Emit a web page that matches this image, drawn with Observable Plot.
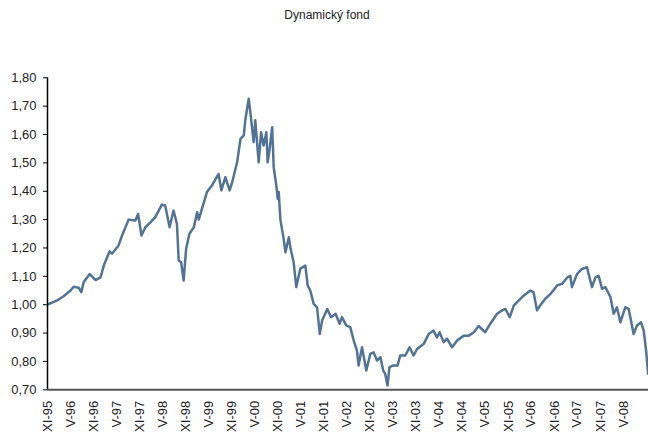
<!DOCTYPE html>
<html>
<head>
<meta charset="utf-8">
<script src="https://cdn.jsdelivr.net/npm/d3@7"></script>
<script src="https://cdn.jsdelivr.net/npm/@observablehq/plot@0.6"></script>
<style>
  html, body { margin: 0; padding: 0; background: #fff; }
  #title { width: 648px; height: 30px; line-height: 30px; text-align: center; padding-left: 6px; box-sizing: border-box;
           font-family: "Liberation Sans", Arial, sans-serif; font-size: 12px; color: #222; }
</style>
</head>
<body>
<div id="title">Dynamický fond</div>
<div id="chart"></div>
<script>
const title = "Dynamický fond";

const dates = [
  "1995-11-01","1996-01-16","1996-03-08","1996-05-01","1996-05-26","1996-07-05","1996-07-26","1996-08-14",
  "1996-10-01","1996-11-16","1996-12-25","1997-01-20","1997-03-07","1997-03-26","1997-05-17","1997-06-14",
  "1997-08-05","1997-09-28","1997-10-19","1997-11-15","1997-12-16","1998-01-25","1998-03-04","1998-04-26",
  "1998-05-22","1998-06-26","1998-07-27","1998-08-23","1998-09-06","1998-09-25","1998-10-15","1998-11-04",
  "1998-11-30","1999-01-04","1999-01-30","1999-02-12","1999-03-09","1999-04-18","1999-05-27","1999-07-19",
  "1999-08-10","1999-09-11","1999-10-15","1999-11-04","1999-12-13","2000-01-09","2000-02-04","2000-02-17",
  "2000-03-14","2000-03-27","2000-04-22","2000-05-05","2000-06-01","2000-06-20","2000-07-10","2000-08-01",
  "2000-08-11","2000-08-27","2000-09-16","2000-09-28","2000-10-19","2000-10-30","2000-11-07","2000-11-20",
  "2000-12-16","2000-12-30","2001-01-26","2001-02-09","2001-03-05","2001-03-26","2001-04-27","2001-06-06",
  "2001-06-24","2001-07-15","2001-08-11","2001-09-07","2001-09-28","2001-10-17","2001-11-26","2001-12-27",
  "2002-02-01","2002-03-04","2002-03-23","2002-04-26","2002-05-28","2002-06-24","2002-07-20","2002-08-02",
  "2002-08-29","2002-10-02","2002-11-03","2002-11-29","2002-12-26","2003-01-22","2003-02-13","2003-03-01",
  "2003-03-19","2003-04-04","2003-05-05","2003-06-07","2003-06-28","2003-08-07","2003-09-10","2003-10-12",
  "2003-11-08","2004-01-01","2004-02-09","2004-03-18","2004-04-14","2004-05-05","2004-06-06","2004-07-03",
  "2004-08-12","2004-09-21","2004-11-13","2004-12-22","2005-02-01","2005-03-10","2005-05-02","2005-06-11",
  "2005-08-04","2005-09-13","2005-10-09","2005-11-12","2005-12-14","2006-01-23","2006-03-02","2006-04-24",
  "2006-05-20","2006-06-16","2006-07-12","2006-08-21","2006-10-01","2006-11-23","2007-01-02","2007-02-11",
  "2007-03-07","2007-03-20","2007-04-29","2007-06-08","2007-07-17","2007-08-26","2007-09-22","2007-10-18",
  "2007-11-14","2007-12-10","2008-01-19","2008-02-14","2008-03-11","2008-04-07","2008-05-16","2008-06-12",
  "2008-07-21","2008-08-17","2008-09-18","2008-10-09","2008-10-28","2008-11-13"
];

const values = [
  1.000,1.015,1.030,1.050,1.063,1.060,1.044,1.080,
  1.108,1.087,1.096,1.138,1.188,1.180,1.209,1.244,
  1.300,1.297,1.320,1.244,1.273,1.290,1.309,1.353,
  1.350,1.273,1.332,1.285,1.156,1.150,1.085,1.197,
  1.250,1.273,1.326,1.300,1.338,1.397,1.420,1.461,
  1.403,1.450,1.403,1.432,1.502,1.585,1.597,1.655,
  1.726,1.679,1.573,1.650,1.502,1.608,1.561,1.608,
  1.502,1.550,1.626,1.485,1.420,1.373,1.397,1.300,
  1.232,1.185,1.238,1.197,1.150,1.062,1.127,1.138,
  1.068,1.050,1.003,0.991,0.897,0.944,0.985,0.956,
  0.968,0.933,0.956,0.927,0.921,0.874,0.838,0.786,
  0.850,0.768,0.827,0.832,0.803,0.815,0.768,0.756,
  0.715,0.780,0.786,0.786,0.821,0.821,0.850,0.821,
  0.844,0.862,0.897,0.909,0.885,0.903,0.868,0.880,
  0.850,0.874,0.891,0.891,0.903,0.925,0.903,0.933,
  0.968,0.980,0.985,0.956,0.997,1.015,1.032,1.050,
  1.044,0.980,0.998,1.021,1.038,1.068,1.074,1.096,
  1.102,1.062,1.108,1.126,1.132,1.062,1.096,1.102,
  1.056,1.062,1.027,0.968,0.991,0.938,0.991,0.985,
  0.897,0.927,0.938,0.909,0.838,0.756
];

const yTicks = [0.70,0.80,0.90,1.00,1.10,1.20,1.30,1.40,1.50,1.60,1.70,1.80];

const xTickLabels = [
  "XI-95","V-96","XI-96","V-97","XI-97","V-98","XI-98","V-99","XI-99","V-00","XI-00","V-01","XI-01",
  "V-02","XI-02","V-03","XI-03","V-04","XI-04","V-05","XI-05","V-06","XI-06","V-07","XI-07","V-08"
];

const xDomain = ["1995-11-01", "2008-11-16"];

// build table from the arrays
const data = dates.map((d, i) => ({ date: new Date(d + "T00:00:00Z"), value: values[i] }));
const romanMonth = { "XI": 10, "V": 4 };
const xTicks = xTickLabels.map(s => {
  const [m, y] = s.split("-");
  return new Date(Date.UTC(1900 + (+y < 50 ? 100 : 0) + +y, romanMonth[m], 1));
});
const labelByTime = new Map(xTicks.map((d, i) => [d.getTime(), xTickLabels[i]]));
const xStart = new Date(xDomain[0] + "T00:00:00Z");
const xEnd = new Date(xDomain[1] + "T00:00:00Z");

const chart = Plot.plot({
  width: 648,
  height: 403,
  marginLeft: 47,
  marginRight: 0,
  marginTop: 47.3,
  marginBottom: 43.7,
  style: { fontFamily: "Liberation Sans, Arial, sans-serif", fontSize: "13px", color: "#222", background: "#fff" },
  x: { type: "utc", domain: [xStart, xEnd] },
  y: { domain: [0.70, 1.80] },
  marks: [
    Plot.axisY({ ticks: yTicks, tickFormat: d => d.toFixed(2).replace(".", ","), tickSize: 4, tickPadding: 7, label: null, stroke: "#000" }),
    Plot.axisX({ ticks: xTicks, tickFormat: d => labelByTime.get(d.getTime()), tickRotate: -90, tickSize: 0, tickPadding: 11, label: null }),
    Plot.line(data, { x: "date", y: "value", stroke: "#527394", strokeWidth: 2.5, strokeLinejoin: "round" }),
    Plot.ruleX([xStart], { y1: 0.70, y2: 1.80, stroke: "#000", strokeWidth: 1.5 }),
    Plot.ruleY([0.70], { stroke: "#555", strokeWidth: 2 })
  ]
});
document.getElementById("chart").appendChild(chart);
</script>
</body>
</html>
